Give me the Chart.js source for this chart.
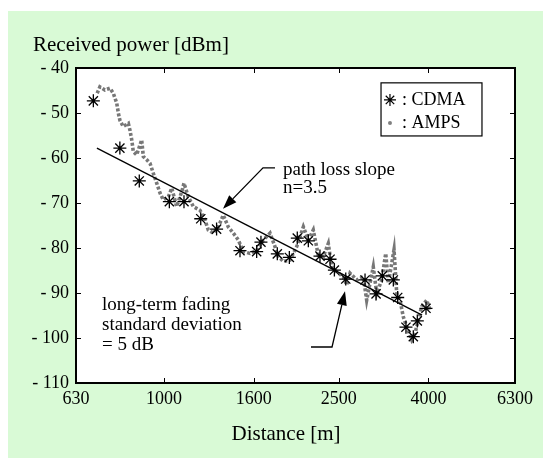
<!DOCTYPE html>
<html>
<head>
<meta charset="utf-8">
<script src="https://cdn.jsdelivr.net/npm/chart.js@4.4.0/dist/chart.umd.min.js"></script>
<style>
  html, body { margin: 0; padding: 0; background: #fff; }
  #wrap { width: 543px; height: 458px; }
</style>
</head>
<body>
<div id="wrap"><canvas id="fading_chart" width="543" height="458"></canvas></div>
<script>
const xTicks = [630, 1000, 1600, 2500, 4000, 6300];

const cdmaDist = [690, 793, 878, 1028, 1110, 1212, 1317, 1489, 1625, 1662, 1811, 1929, 2011, 2131,
  2265, 2388, 2443, 2593, 2869, 3040, 3141, 3328, 3405, 3556, 3696, 3774, 3950];
const cdmaPower = [-47.3, -57.8, -65.1, -69.7, -69.7, -73.5, -75.8, -80.6, -80.8, -78.7, -81.3, -82.1, -77.8, -78.4,
  -81.8, -82.5, -84.9, -86.9, -87.1, -90.2, -86.2, -87.1, -91.0, -97.6, -99.7, -96.2, -93.4];

const ampsDist = [704, 714, 733, 753, 766, 780, 787, 793, 807, 829,
  836, 844, 851, 866, 889, 897, 913, 929, 945, 962,
  979, 996, 1023, 1041, 1068, 1097, 1110, 1135, 1166, 1207,
  1239, 1261, 1295, 1329, 1364, 1400, 1438, 1476, 1515, 1569,
  1625, 1683, 1743, 1789, 1817, 1869, 1935, 2005, 2076, 2131,
  2187, 2245, 2305, 2366, 2409, 2473, 2560, 2606, 2652, 2747,
  2843, 2894, 2945, 2996, 3050, 3132, 3198, 3242, 3340, 3388,
  3446, 3507, 3570, 3665, 3729, 3794, 3862, 3965, 4034];
const ampsPower = [-45.6, -44.2, -44.9, -44.5, -45.6, -47.8, -50.1, -51.6, -53.0, -52.3,
  -53.8, -56.0, -58.6, -59.3, -56.0, -59.7, -60.4, -61.2, -63.4, -65.6,
  -67.8, -69.3, -68.6, -66.7, -70.8, -67.5, -65.6, -68.6, -70.8, -71.6,
  -73.8, -76.0, -76.7, -75.3, -72.7, -75.3, -76.7, -78.2, -80.8, -81.2,
  -80.5, -78.2, -76.7, -79.7, -81.8, -83.0, -82.7, -79.7, -75.3, -78.2,
  -76.0, -81.6, -81.9, -79.0, -84.2, -85.3, -86.4, -88.2, -85.6, -87.1,
  -86.4, -91.6, -87.8, -84.2, -90.1, -87.1, -81.2, -87.8, -80.4, -90.1,
  -91.6, -95.3, -97.5, -100.4, -99.0, -96.0, -93.0, -91.6, -93.8];

const slopeDist = [703, 3870];
const slopePower = [-57.8, -94.9];

const toPoints = (xs, ys) => xs.map((x, i) => ({ x: x, y: ys[i] }));

const FONT = "'Liberation Serif', 'Times New Roman', serif";

// arrow: tail -> elbow -> tip, in data units
const arrowSlope = { tail: [1789, -62.2], elbow: [1680, -62.2], tip: [1362, -71.3] };
const arrowFading = { tail: [2161, -102.0], elbow: [2413, -102.0], tip: [2583, -89.6] };

const drawArrow = (chart, arr) => {
  const c = chart.ctx;
  const sx = chart.scales.x, sy = chart.scales.y;
  const p = (d) => [sx.getPixelForValue(d[0]), sy.getPixelForValue(d[1])];
  const t = p(arr.tail), e = p(arr.elbow), h = p(arr.tip);
  const ang = Math.atan2(h[1] - e[1], h[0] - e[0]);
  const len = 14, wid = 5;
  const bx = h[0] - len * Math.cos(ang), by = h[1] - len * Math.sin(ang);
  c.strokeStyle = "#000";
  c.lineWidth = 1.3;
  c.beginPath();
  c.moveTo(t[0], t[1]);
  c.lineTo(e[0], e[1]);
  c.lineTo(bx, by);
  c.stroke();
  c.fillStyle = "#000";
  c.beginPath();
  c.moveTo(h[0], h[1]);
  c.lineTo(bx + wid * Math.sin(ang), by - wid * Math.cos(ang));
  c.lineTo(bx - wid * Math.sin(ang), by + wid * Math.cos(ang));
  c.closePath();
  c.fill();
};

const framePlugin = {
  id: "frame",
  beforeDraw(chart) {
    const c = chart.ctx;
    const a = chart.chartArea;
    c.save();
    c.fillStyle = "#ffffff";
    c.fillRect(0, 0, chart.width, chart.height);
    c.fillStyle = "#d9fad6";
    c.fillRect(8, 11, chart.width - 8, chart.height - 11);
    c.fillStyle = "#ffffff";
    c.fillRect(a.left, a.top, a.right - a.left, a.bottom - a.top);
    c.restore();
  },
  afterDraw(chart) {
    const c = chart.ctx;
    const a = chart.chartArea;
    const sx = chart.scales.x, sy = chart.scales.y;
    c.save();

    // inward tick marks on all four sides
    c.strokeStyle = "#000";
    c.lineWidth = 1;
    c.beginPath();
    xTicks.forEach((v) => {
      const px = Math.round(sx.getPixelForValue(v)) + 0.5;
      c.moveTo(px, a.bottom); c.lineTo(px, a.bottom - 5);
      c.moveTo(px, a.top); c.lineTo(px, a.top + 5);
    });
    sy.ticks.forEach((t) => {
      const py = Math.round(sy.getPixelForValue(t.value)) + 0.5;
      c.moveTo(a.left, py); c.lineTo(a.left + 5, py);
      c.moveTo(a.right, py); c.lineTo(a.right - 5, py);
    });
    c.stroke();

    // plot frame
    c.lineWidth = 2;
    c.strokeRect(a.left, a.top, a.right - a.left, a.bottom - a.top);

    // axis titles
    c.fillStyle = "#000";
    c.textBaseline = "middle";
    c.font = "21px " + FONT;
    c.textAlign = "left";
    c.fillText("Received power [dBm]", 33, 45);
    c.textAlign = "center";
    c.fillText("Distance [m]", 286, 434);

    // annotations
    c.font = "19px " + FONT;
    c.textAlign = "left";
    const tx = (v) => sx.getPixelForValue(v);
    const ty = (v) => sy.getPixelForValue(v);
    c.fillText("path loss slope", tx(1866), ty(-62.7));
    c.fillText("n=3.5", tx(1866), ty(-66.7));
    c.fillText("long-term fading", tx(722), ty(-92.7));
    c.fillText("standard deviation", tx(722), ty(-97.1));
    c.fillText("= 5 dB", tx(722), ty(-101.6));
    drawArrow(chart, arrowSlope);
    drawArrow(chart, arrowFading);

    // legend box
    const lx0 = tx(3120), lx1 = tx(5298), ly0 = ty(-43.3), ly1 = ty(-55.1);
    c.fillStyle = "#fff";
    c.fillRect(lx0, ly0, lx1 - lx0, ly1 - ly0);
    c.strokeStyle = "#000";
    c.lineWidth = 1.2;
    c.strokeRect(lx0, ly0, lx1 - lx0, ly1 - ly0);
    const mx = tx(3270), r1 = ty(-47.1), r2 = ty(-52.2);
    Chart.helpers.drawPoint(c, { pointStyle: "star", radius: 6, borderWidth: 1.2 }, mx, r1);
    c.fillStyle = "#808080";
    c.beginPath();
    c.arc(mx, r2, 2, 0, Math.PI * 2);
    c.fill();
    c.fillStyle = "#000";
    c.font = "18px " + FONT;
    c.fillText(": CDMA", tx(3483), r1);
    c.fillText(": AMPS", tx(3483), r2);

    c.restore();
  },
};

const ctx = document.getElementById("fading_chart");
new Chart(ctx, {
  type: "scatter",
  data: {
    datasets: [
      {
        label: "CDMA",
        data: toPoints(cdmaDist, cdmaPower),
        pointStyle: "star",
        pointRadius: 6.5,
        borderColor: "#000",
        borderWidth: 1.3,
        backgroundColor: "#000",
        order: 0,
      },
      {
        label: "path loss slope",
        data: toPoints(slopeDist, slopePower),
        showLine: true,
        pointRadius: 0,
        borderColor: "#000",
        borderWidth: 1.3,
        order: 1,
      },
      {
        label: "AMPS",
        data: toPoints(ampsDist, ampsPower),
        showLine: true,
        pointRadius: 0,
        borderColor: "#777777",
        borderWidth: 3.6,
        borderDash: [3, 2],
        borderCapStyle: "butt",
        tension: 0,
        order: 2,
      },
    ],
  },
  options: {
    responsive: false,
    animation: false,
    events: [],
    layout: {
      padding: { left: 0, right: 28, top: 68, bottom: 0 },
    },
    plugins: {
      legend: { display: false },
      tooltip: { enabled: false },
    },
    scales: {
      x: {
        type: "logarithmic",
        min: 630,
        max: 6300,
        grid: { display: false, drawTicks: false },
        border: { display: false },
        afterBuildTicks: function (scale) {
          scale.ticks = xTicks.map((v) => ({ value: v }));
        },
        afterFit: function (scale) {
          scale.height = 75;
        },
        ticks: {
          autoSkip: false,
          maxRotation: 0,
          padding: 5,
          color: "#000",
          font: { family: FONT, size: 18 },
          callback: function (value) {
            return String(value);
          },
        },
      },
      y: {
        min: -110,
        max: -40,
        grid: { display: false, drawTicks: false },
        border: { display: false },
        afterFit: function (scale) {
          scale.width = 76;
        },
        ticks: {
          stepSize: 10,
          padding: 7,
          color: "#000",
          font: { family: FONT, size: 18 },
          callback: function (value) {
            return "- " + Math.abs(value);
          },
        },
      },
    },
  },
  plugins: [framePlugin],
});
</script>
</body>
</html>
